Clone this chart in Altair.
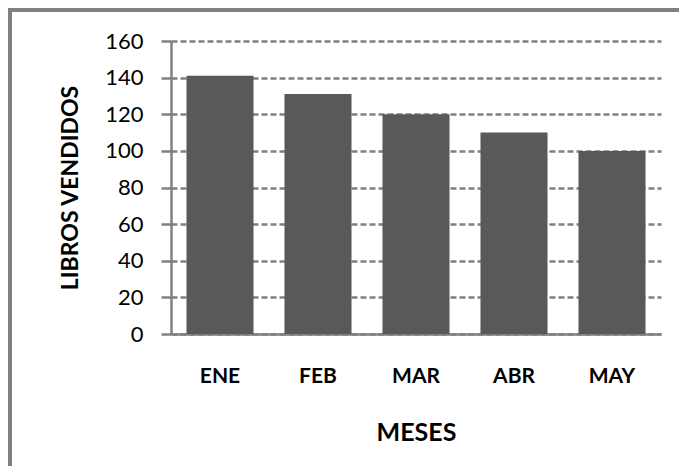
import altair as alt
import pandas as pd

meses = ["ENE", "FEB", "MAR", "ABR", "MAY"]
libros = [141, 131, 120, 110, 100]
y_ticks = [0, 20, 40, 60, 80, 100, 120, 140, 160]

df = pd.DataFrame({"mes": meses, "libros": libros})

FONT = "Lato"
GRAY = "#808080"

bars = alt.Chart(df).mark_bar(color="#595959").encode(
    x=alt.X(
        "mes:N",
        sort=meses,
        scale=alt.Scale(paddingInner=0.316, paddingOuter=0.158),
        axis=alt.Axis(
            title="MESES",
            labelAngle=0,
            labelFont=FONT,
            labelFontSize=21,
            labelFontWeight="bold",
            labelColor="#000000",
            labelPadding=31,
            ticks=False,
            domainColor=GRAY,
            domainWidth=2.5,
            titleFont=FONT,
            titleFontSize=25,
            titleFontWeight="bold",
            titleColor="#000000",
            titlePadding=34,
            grid=False,
        ),
    ),
    y=alt.Y(
        "libros:Q",
        scale=alt.Scale(domain=[0, 160], nice=False),
        axis=alt.Axis(
            title="LIBROS VENDIDOS",
            values=y_ticks,
            labelFont=FONT,
            labelFontSize=22,
            labelColor="#000000",
            labelPadding=18,
            tickSize=10,
            tickColor=GRAY,
            tickWidth=2.5,
            domainColor=GRAY,
            domainWidth=2.5,
            grid=True,
            gridColor=GRAY,
            gridWidth=2.5,
            gridDash=[6, 3],
            titleFont=FONT,
            titleFontSize=23,
            titleFontWeight="bold",
            titleColor="#000000",
            titlePadding=22,
        ),
    ),
)

# outer frame (left and top edges of the chart border)
frame_left = alt.Chart(df).mark_rule(color=GRAY, strokeWidth=4).encode(
    x=alt.value(-161), y=alt.value(-33), y2=alt.value(480)
)
frame_top = alt.Chart(df).mark_rule(color=GRAY, strokeWidth=4).encode(
    x=alt.value(-163), x2=alt.value(700), y=alt.value(-31)
)

chart = (
    alt.layer(bars, frame_left, frame_top)
    .properties(
        width=490,
        height=293,
        autosize=alt.AutoSizeParams(type="none"),
        padding={"left": 163, "top": 33, "right": 18, "bottom": 132},
        background="white",
    )
    .configure_view(stroke=None)
)

chart.save("out.html", embed_options={"renderer": "svg", "actions": False})
